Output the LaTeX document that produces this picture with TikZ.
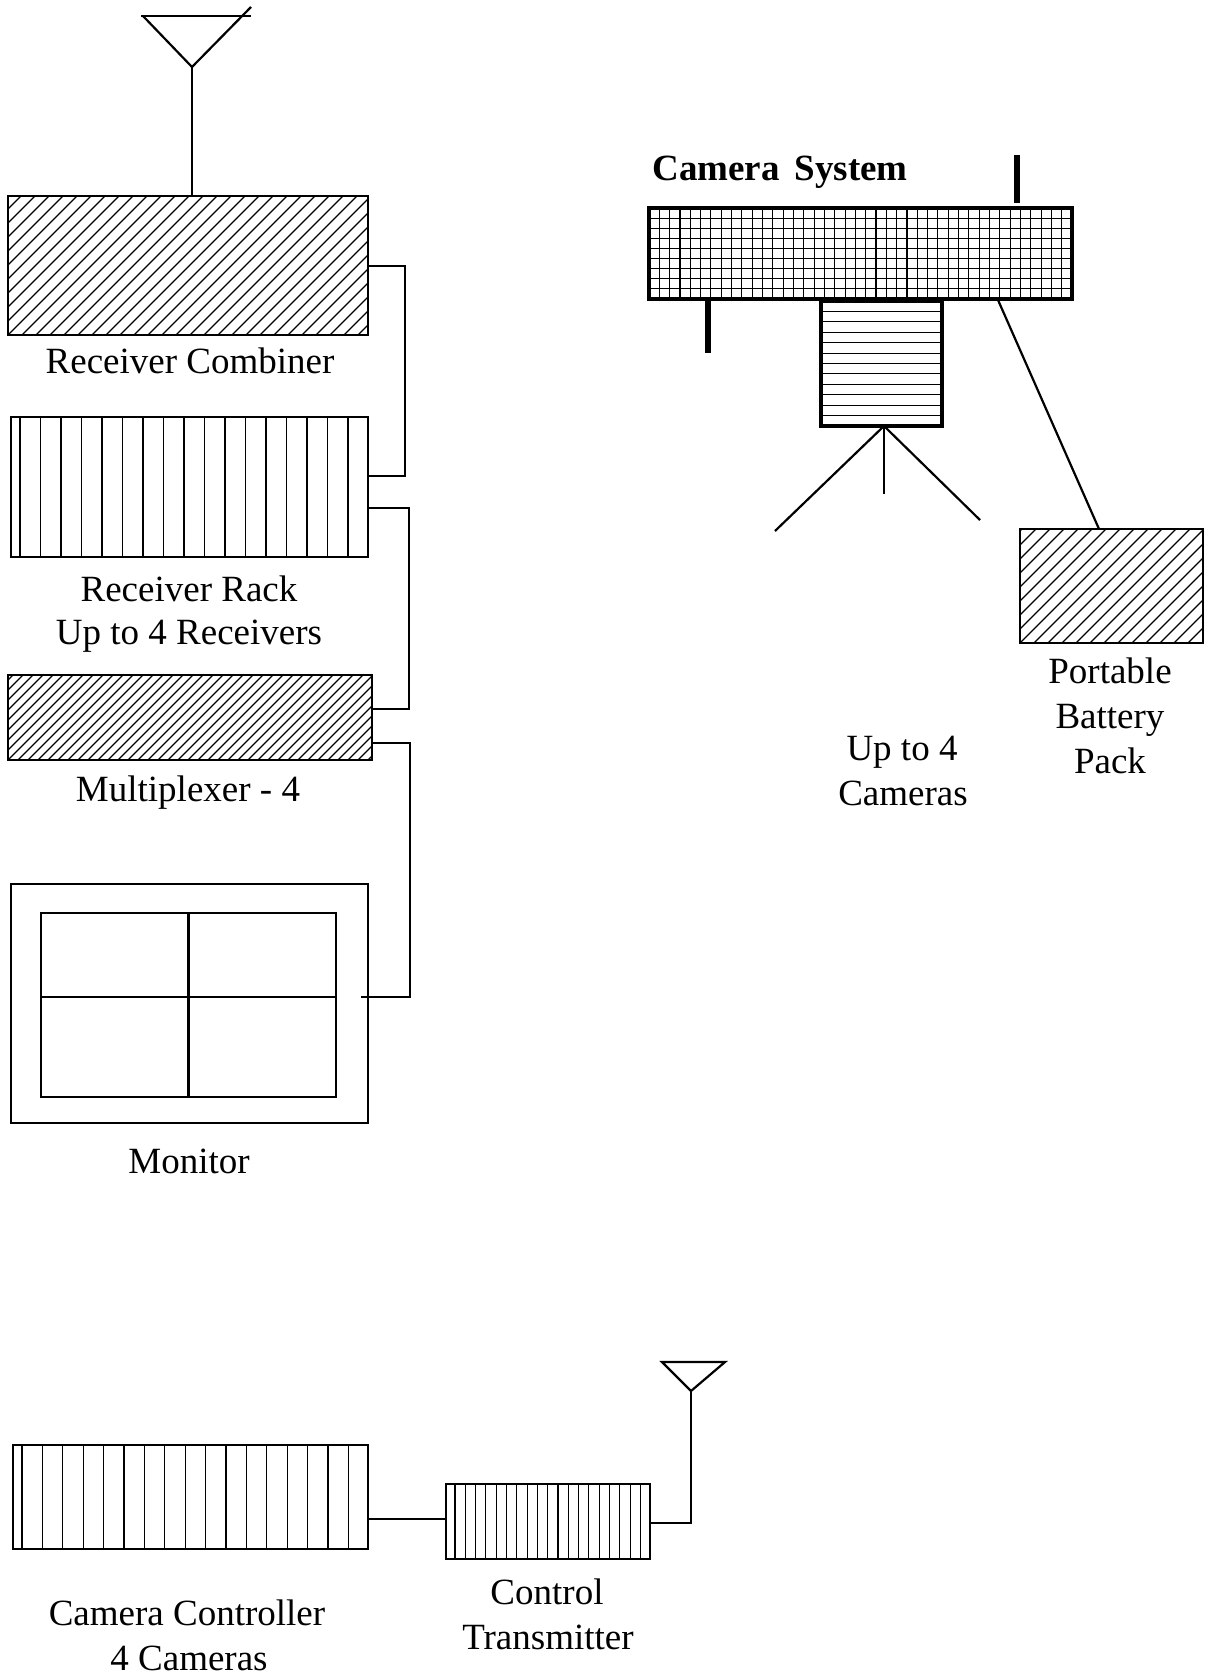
\documentclass[tikz,border=0pt]{standalone}
\usepackage{fontspec}
\setmainfont{Liberation Serif}
\begin{document}
\begin{tikzpicture}[x=0.5pt,y=-0.5pt,
  hatchln/.style={line width=0.55pt},
  gridln/.style={line width=0.55pt},
  box/.style={draw, line width=1.3pt, rectangle, inner sep=0pt, outer sep=0pt, anchor=north west},
  thickbox/.style={box, line width=1.7pt},
  conn/.style={line width=1.1pt},
  stub/.style={line width=2.6pt},
  lbl/.style={anchor=base, inner sep=0pt, font=\fontsize{18.5pt}{22.5pt}\selectfont},
  hatch/.style={path picture={\foreach \k in {-16,...,40}{\draw[hatchln] ([xshift=\k*#1]path picture bounding box.south west) -- ++(120pt,120pt);}}},
  vlines/.style n args={3}{path picture={\foreach \k in {0,...,#3}{\draw[gridln] ([xshift=#1+\k*#2]path picture bounding box.south west) -- ([xshift=#1+\k*#2]path picture bounding box.north west);}}},
  gridfill/.style={path picture={
     \foreach \k in {1,...,40}{\draw[gridln] ([xshift=\k*5.159pt]path picture bounding box.south west) -- ([xshift=\k*5.159pt]path picture bounding box.north west);}
     \foreach \k in {1,...,8}{\draw[gridln] ([yshift=\k*5.056pt]path picture bounding box.south west) -- ([yshift=\k*5.056pt]path picture bounding box.south east);}}},
  hlines/.style={path picture={\foreach \k in {1,...,11}{\draw[gridln] ([yshift=\k*5.208pt]path picture bounding box.south west) -- ([yshift=\k*5.208pt]path picture bounding box.south east);}}}
]
\useasboundingbox (0,0) rectangle (1209,1680);

% ---------- left column ----------
\node[box, hatch=7pt, minimum width=180pt, minimum height=69.5pt] (comb) at (8,196) {};
\node[box, vlines={4.5pt}{10.25pt}{16}, minimum width=178.5pt, minimum height=70pt] (rack) at (11,417) {};
\node[box, hatch=5pt, minimum width=182pt, minimum height=42.5pt] (mux) at (8,675) {};
\node[box, minimum width=178.5pt, minimum height=119.5pt] (monout) at (11,884) {};
\node[box, minimum width=147.5pt, minimum height=92pt] (monin) at (41,913) {};
\draw[box] (monin.north) -- (monin.south);
\draw[box] ([yshift=4pt]monin.west) -- ([yshift=4pt]monin.east);

% antenna of the receiver combiner
\coordinate (a1l) at (141,16);
\coordinate (a1v) at (143,16);
\coordinate (a1r) at (251,16);
\coordinate (a1t) at (251,7);
\coordinate (a1p) at (192,67);
\draw[conn] (a1l) -- (a1r);
\draw[conn] (a1v) -- (a1p) -- (a1t);
\draw[conn] (a1p) -- (comb.north -| a1p);

% connectors
\coordinate (k1a) at (405,266);
\coordinate (k1b) at (405,476);
\draw[conn] (comb.east |- k1a) -- (k1a) -- (k1b) -- (rack.east |- k1b);
\coordinate (k2a) at (409,508);
\coordinate (k2b) at (409,709);
\draw[conn] (rack.east |- k2a) -- (k2a) -- (k2b) -- (mux.east |- k2b);
\coordinate (k3a) at (410,743);
\coordinate (k3b) at (410,997);
\coordinate (k3c) at (361,997);
\draw[conn] (mux.east |- k3a) -- (k3a) -- (k3b) -- (k3c);

% labels
\node[lbl] (tcomb) at (190,373) {Receiver Combiner};
\node[lbl] (track1) at (189,601) {Receiver Rack};
\node[lbl] (track2) at (189,644) {Up to 4 Receivers};
\node[lbl] (tmux) at (188,801) {Multiplexer - 4};
\node[lbl] (tmon) at (189,1173) {Monitor};

% ---------- camera system ----------
\node[lbl, anchor=base west, font=\fontsize{18.5pt}{22.5pt}\selectfont\bfseries] (tcam) at (652,181) {Camera\hspace{0.4em}System};
\node[thickbox, gridfill, minimum width=211.5pt, minimum height=45.5pt] (grid) at (649,208) {};
\node[thickbox, hlines, minimum width=60.5pt, minimum height=62.5pt] (body) at (821,301) {};
\coordinate (s1a) at (1017,155);
\coordinate (s1b) at (1017,203);
\draw[stub] (s1a) -- (s1b);
\coordinate (s2b) at (708,353);
\draw[stub] (grid.south -| s2b) -- (s2b);
% tripod
\coordinate (tp) at (884,426);
\coordinate (tl) at (775,531);
\coordinate (tm) at (884,494);
\coordinate (tr) at (980,520);
\draw[conn] (tl) -- (tp) -- (tr);
\draw[conn] (tp) -- (tm);
% battery
\node[box, hatch=7pt, minimum width=91.5pt, minimum height=57pt] (batt) at (1020,529) {};
\coordinate (c1) at (998,300);
\coordinate (c2) at (1099,529);
\draw[conn] (c1) -- (batt.north -| c2);
\node[lbl] (tb1) at (1110,683) {Portable};
\node[lbl] (tb2) at (1110,728) {Battery};
\node[lbl] (tb3) at (1110,773) {Pack};
\node[lbl] (tu1) at (902,760) {Up to 4};
\node[lbl] (tu2) at (903,805) {Cameras};

% ---------- bottom ----------
\node[box, vlines={4.5pt}{10.2pt}{16}, minimum width=177.5pt, minimum height=52pt] (cc) at (13,1445) {};
\node[box, vlines={4.5pt}{5.15pt}{18}, minimum width=102pt, minimum height=37.5pt] (tx) at (446,1484) {};
\coordinate (cy) at (400,1519);
\draw[conn] (cc.east |- cy) -- (tx.west |- cy);
\coordinate (a2l) at (662,1362);
\coordinate (a2r) at (725,1362);
\coordinate (a2p) at (691,1391);
\coordinate (a2b) at (691,1523);
\draw[conn] (a2l) -- (a2r) -- (a2p) -- cycle;
\draw[conn] (a2p) -- (a2b) -- (tx.east |- a2b);
\node[lbl] (tcc1) at (187,1625) {Camera Controller};
\node[lbl] (tcc2) at (189,1670) {4 Cameras};
\node[lbl] (ttx1) at (547,1604) {Control};
\node[lbl] (ttx2) at (548,1649) {Transmitter};
\end{tikzpicture}
\end{document}
